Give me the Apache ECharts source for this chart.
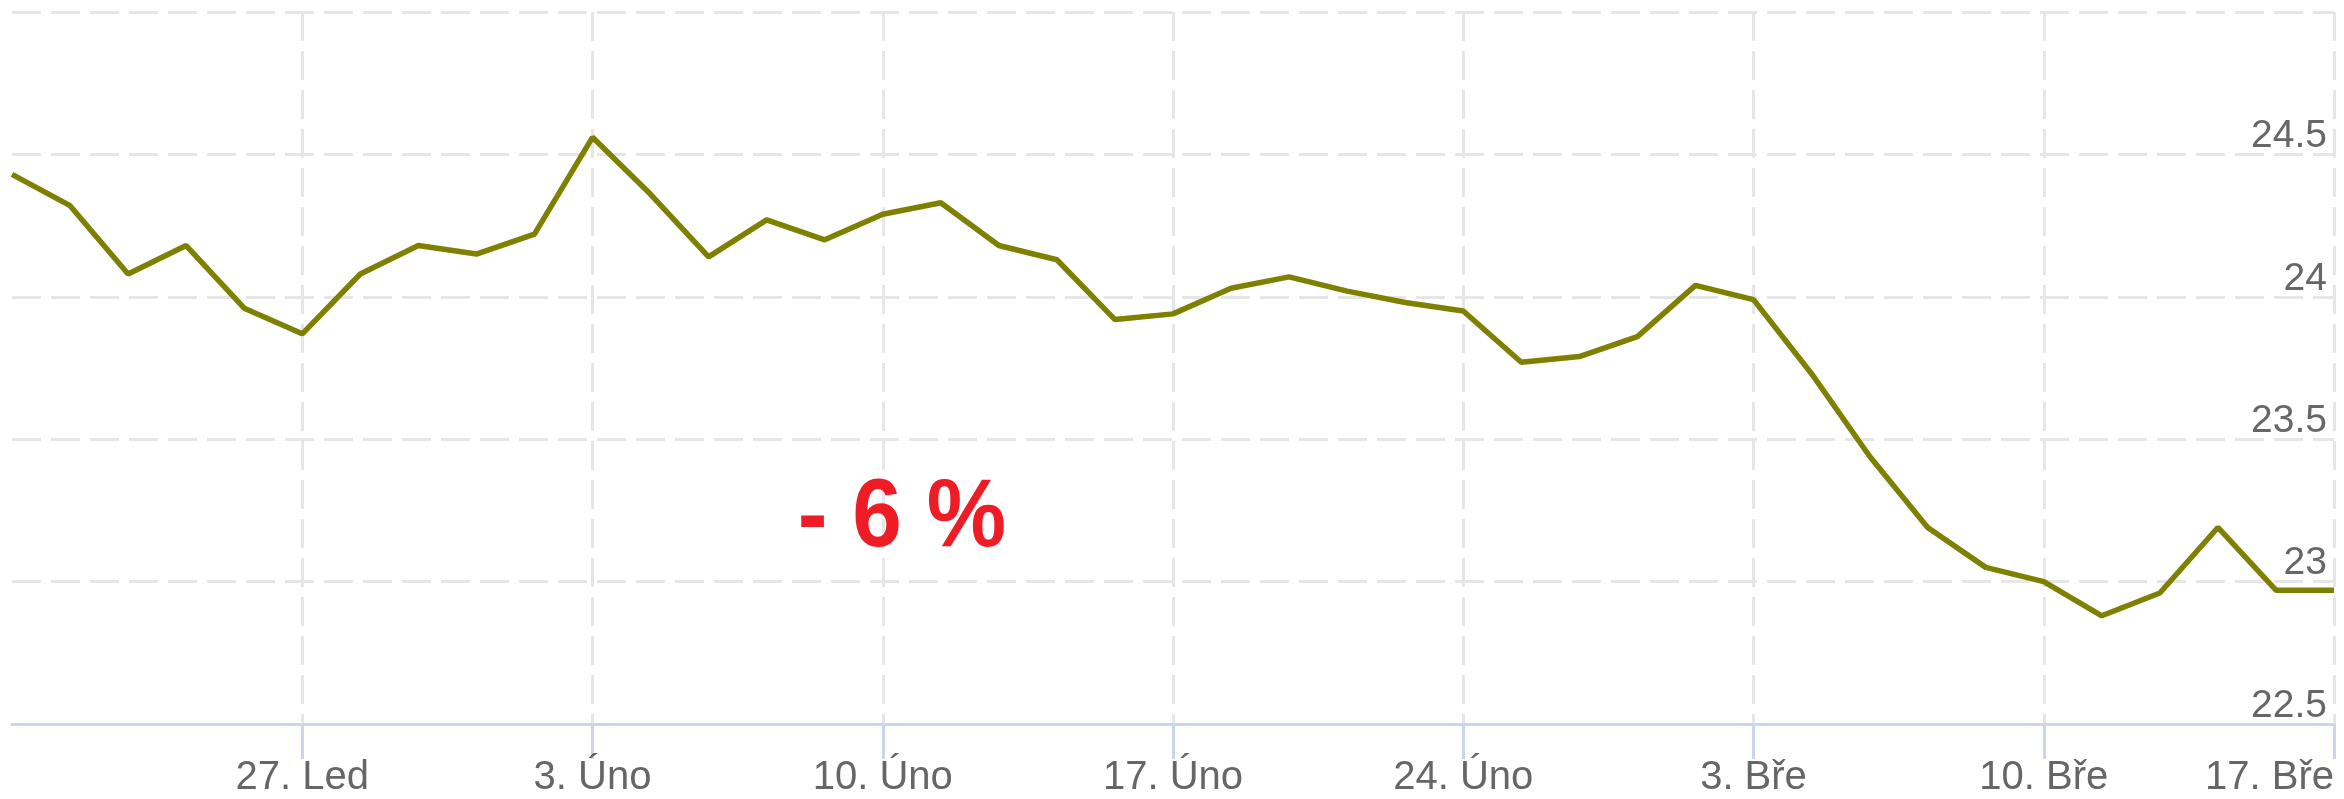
<!DOCTYPE html>
<html>
<head>
<meta charset="utf-8">
<script src="https://cdn.jsdelivr.net/npm/echarts@6/dist/echarts.min.js"></script>
<style>
html,body{margin:0;padding:0;background:#fff;}
#chart{width:2344px;height:799px;}
</style>
</head>
<body>
<div id="chart"></div>
<script>
// Trading days (ordinal axis, 5 per week)
const categories = [
  "20. Led","21. Led","22. Led","23. Led","24. Led",
  "27. Led","28. Led","29. Led","30. Led","31. Led",
  "3. Úno","4. Úno","5. Úno","6. Úno","7. Úno",
  "10. Úno","11. Úno","12. Úno","13. Úno","14. Úno",
  "17. Úno","18. Úno","19. Úno","20. Úno","21. Úno",
  "24. Úno","25. Úno","26. Úno","27. Úno","28. Úno",
  "3. Bře","4. Bře","5. Bře","6. Bře","7. Bře",
  "10. Bře","11. Bře","12. Bře","13. Bře","14. Bře",
  "17. Bře"
];
const values = [
  24.43, 24.32, 24.08, 24.18, 23.96,
  23.87, 24.08, 24.18, 24.15, 24.22,
  24.56, 24.36, 24.14, 24.27, 24.20,
  24.29, 24.33, 24.18, 24.13, 23.92,
  23.94, 24.03, 24.07, 24.02, 23.98,
  23.95, 23.77, 23.79, 23.86, 24.04,
  23.99, 23.73, 23.44, 23.19, 23.05,
  23.00, 22.88, 22.96, 23.19, 22.97,
  22.97
];
const yMin = 22.5, yMax = 25, yStep = 0.5;
const annotation = "- 6 %";

const gridStyle = {color:'#e6e6e6', width:3, type:[29,10]};
const weekly = (i) => i > 0 && i % 5 === 0;

const chart = echarts.init(document.getElementById('chart'), null, {renderer:'canvas'});
chart.setOption({
  animation:false,
  backgroundColor:'#ffffff',
  grid:{left:12, right:10, top:12, bottom:75, containLabel:false},
  xAxis:{
    type:'category',
    data:categories,
    boundaryGap:false,
    axisLine:{show:true, lineStyle:{color:'#ccd6eb', width:3}},
    axisTick:{show:true, length:35, interval:weekly, lineStyle:{color:'#ccd6eb', width:3}},
    axisLabel:{
      interval:weekly, margin:34, color:'#666666',
      fontFamily:'"Liberation Sans", Arial, sans-serif', fontSize:40,
      alignMaxLabel:'right'
    },
    splitLine:{show:true, interval:weekly, lineStyle:gridStyle}
  },
  yAxis:{
    type:'value',
    position:'right',
    min:yMin, max:yMax, interval:yStep,
    axisLine:{show:false},
    axisTick:{show:false},
    axisLabel:{
      inside:true, margin:7, color:'#666666', showMaxLabel:false,
      fontFamily:'"Liberation Sans", Arial, sans-serif', fontSize:39,
      verticalAlign:'bottom', lineHeight:36
    },
    splitLine:{show:true, lineStyle:gridStyle}
  },
  series:[{
    type:'line',
    data:values,
    symbol:'none',
    lineStyle:{color:'#808000', width:5.5},
    itemStyle:{color:'#808000'}
  }],
  graphic:[{
    type:'text',
    x:902, y:519,
    z:100,
    scaleX:0.92,
    style:{
      text:annotation,
      fontFamily:'"Liberation Sans", Arial, sans-serif',
      fontWeight:'bold', fontSize:97,
      fill:'#ee1c25',
      align:'center', verticalAlign:'middle'
    }
  }]
});
</script>
</body>
</html>
